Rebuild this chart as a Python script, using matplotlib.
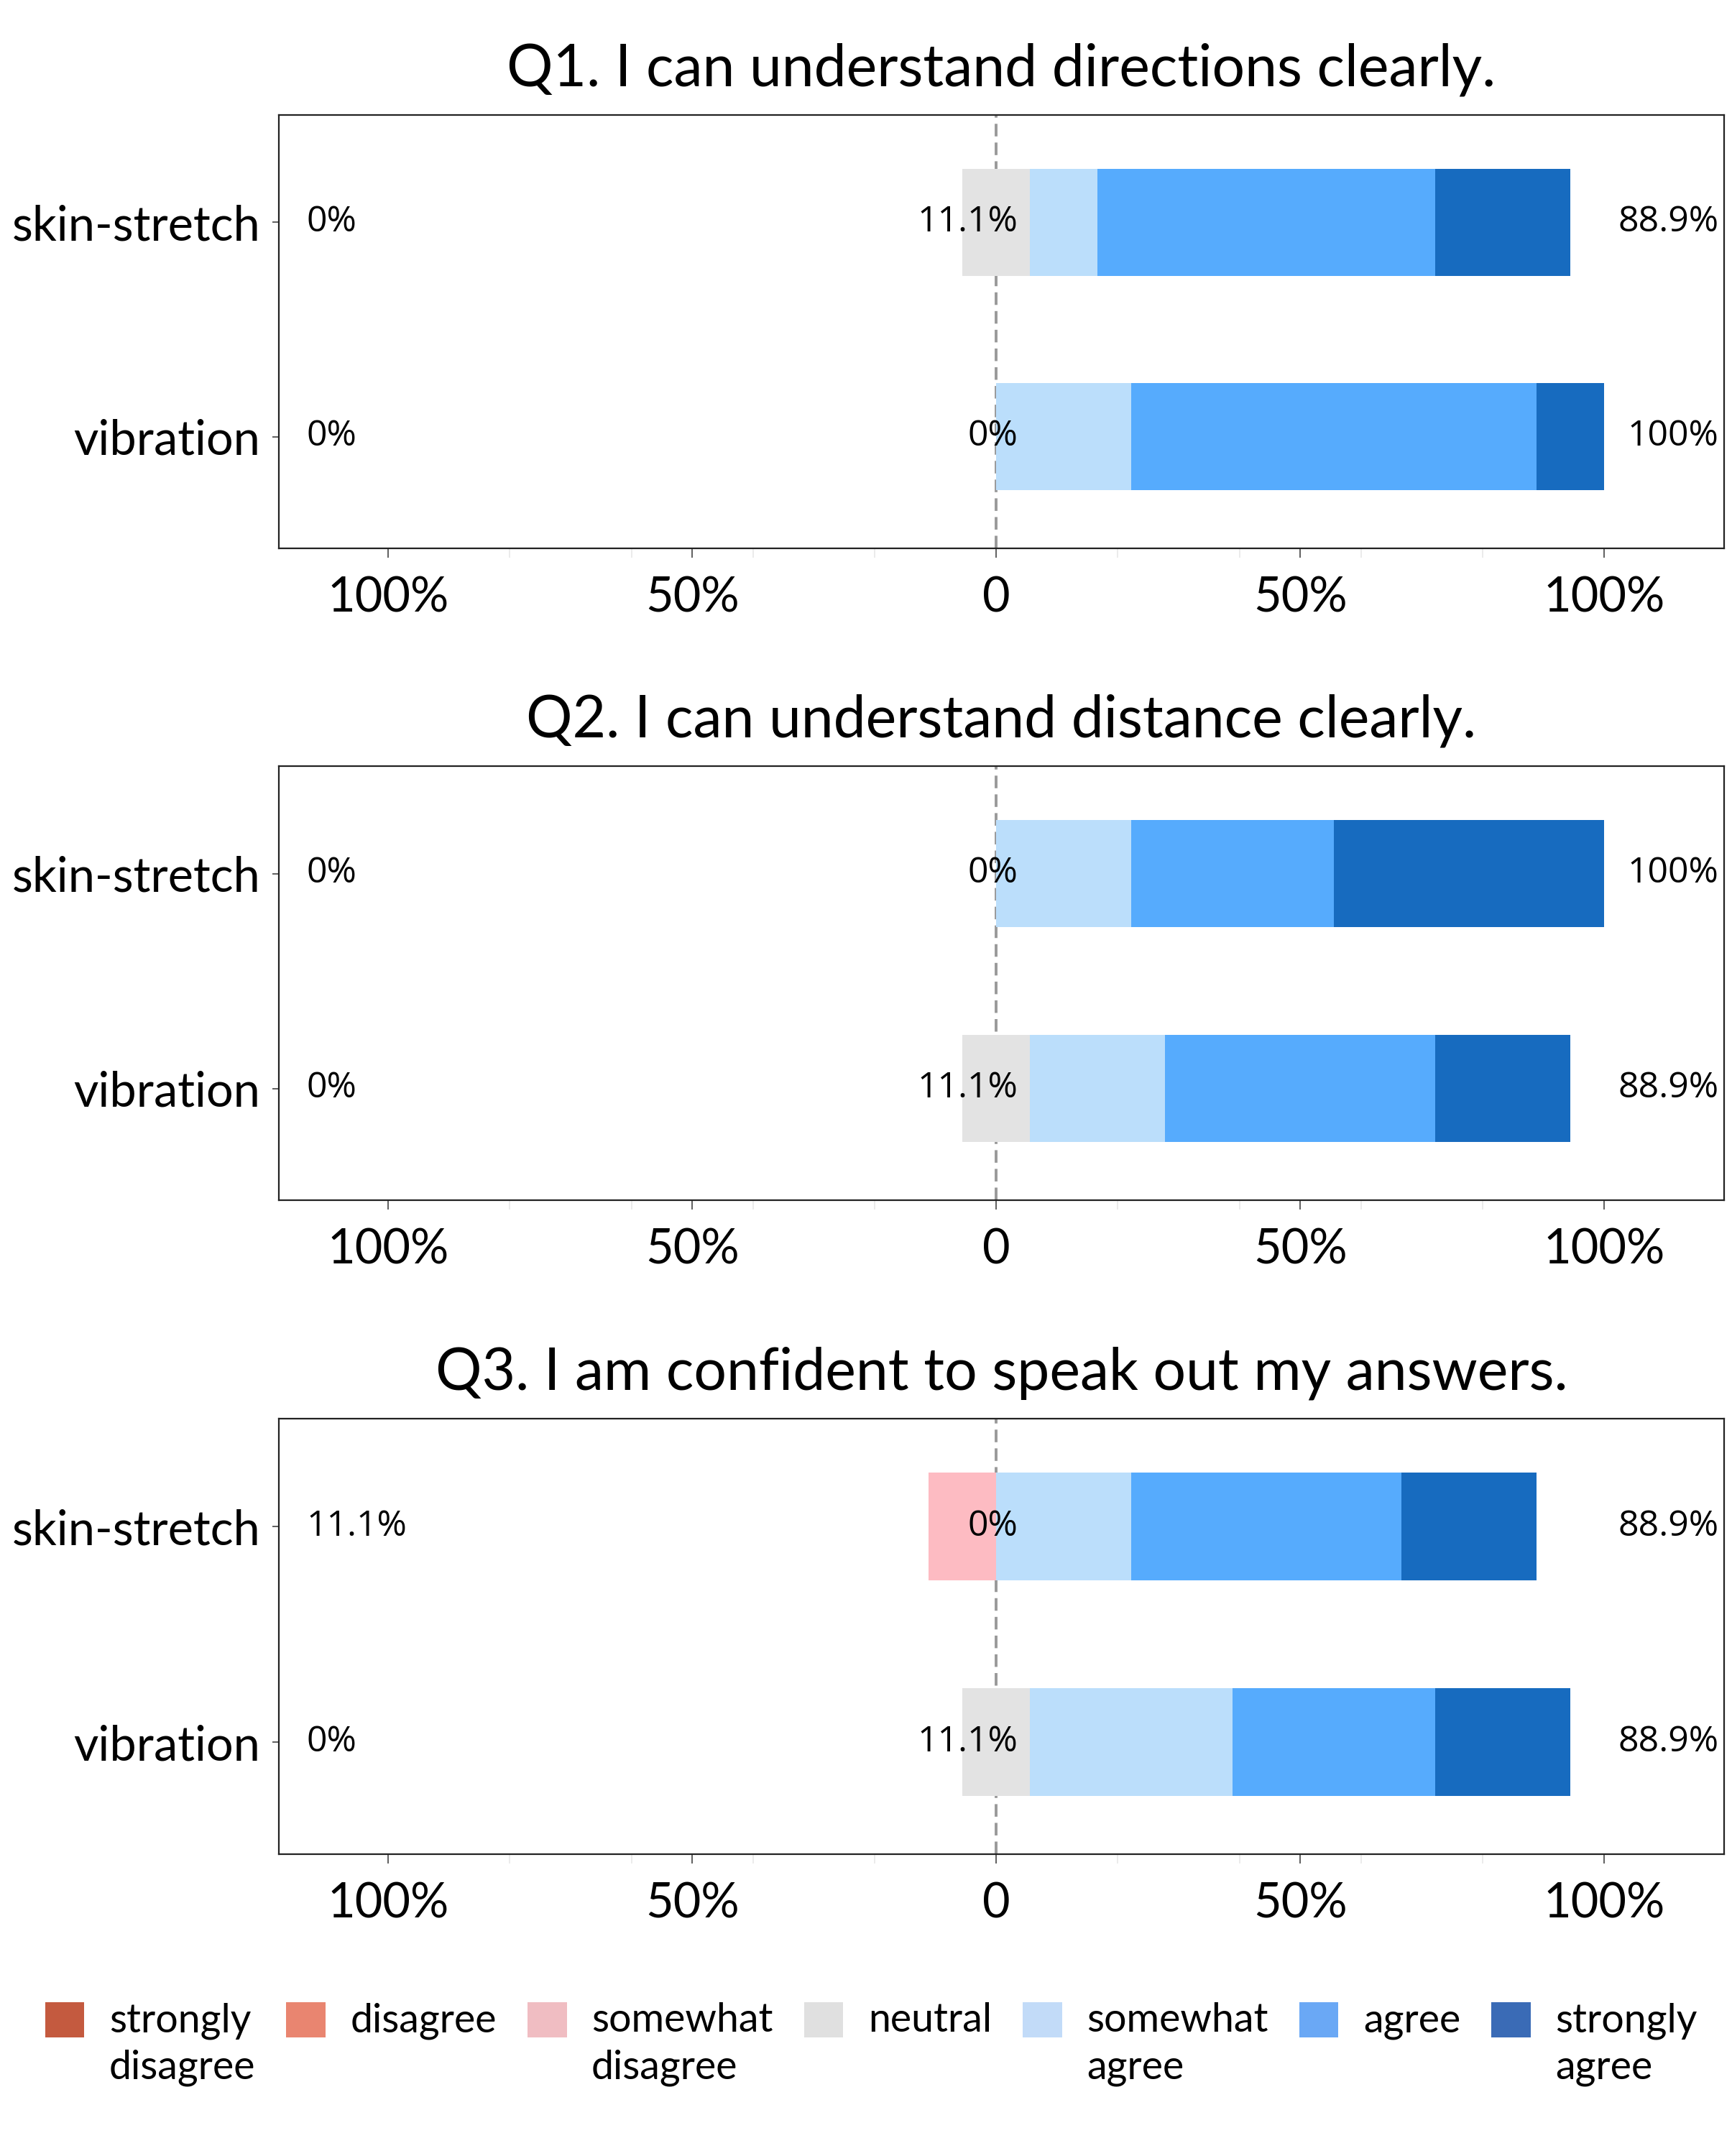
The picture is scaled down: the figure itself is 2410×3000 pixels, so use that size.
import matplotlib
matplotlib.use("Agg")
import matplotlib.pyplot as plt
from matplotlib.patches import Patch
from matplotlib.ticker import MultipleLocator, FixedLocator
import numpy as np

# ---------------- data ----------------
categories = ["strongly\ndisagree", "disagree", "somewhat\ndisagree", "neutral",
              "somewhat\nagree", "agree", "strongly\nagree"]
conditions = ["skin-stretch", "vibration"]
titles = ["Q1. I can understand directions clearly.",
          "Q2. I can understand distance clearly.",
          "Q3. I am confident to speak out my answers."]
n_participants = 9
# response counts per condition, ordered as in `categories`
q1_skin = [0, 0, 0, 1, 1, 5, 2]
q1_vib = [0, 0, 0, 0, 2, 6, 1]
q2_skin = [0, 0, 0, 0, 2, 3, 4]
q2_vib = [0, 0, 0, 1, 2, 4, 2]
q3_skin = [0, 0, 1, 0, 2, 4, 2]
q3_vib = [0, 0, 0, 1, 3, 3, 2]
questions = [[q1_skin, q1_vib], [q2_skin, q2_vib], [q3_skin, q3_vib]]

xtick_pos = [-1.0, -0.5, 0.0, 0.5, 1.0]
xtick_labels = ["100%", "50%", "0", "50%", "100%"]

bar_colors = ["#c45a3f", "#e98570", "#fdbbc2", "#e3e3e3", "#bbdefb", "#56abfd", "#176bbf"]
legend_colors = ["#c45a3f", "#e98570", "#f0bdc2", "#e0e0e0", "#c2dbf8", "#6aa8f5", "#3a6bb6"]

# ---------------- style ----------------
FONT = "Lato"
PFONT = "Open Sans"
plt.rcParams["font.family"] = [FONT, "DejaVu Sans"]

fig = plt.figure(figsize=(24.1, 30), dpi=100)

ax_rects = [
    [0.161, 0.7457, 0.8344, 0.2010],
    [0.161, 0.4433, 0.8344, 0.2013],
    [0.161, 0.1400, 0.8344, 0.2020],
]


def fmt(v):
    return f"{round(v, 1):g}%"


for qi, (rect, rows, title) in enumerate(zip(ax_rects, questions, titles)):
    ax = fig.add_axes(rect)
    ax.axvline(0, color="#999999", linestyle=(0, (4.5, 2.2)), linewidth=2.8, zorder=1)
    for ri, counts in enumerate(rows):
        frac = np.array(counts, dtype=float) / n_participants
        start = -(frac[0] + frac[1] + frac[2] + frac[3] / 2.0)
        left = start
        for ci in range(len(categories)):
            if frac[ci] > 0:
                ax.barh(ri, frac[ci], left=left, height=0.5,
                        color=bar_colors[ci], edgecolor="none", zorder=2)
            left += frac[ci]
        neg = frac[:3].sum() * 100
        neu = frac[3] * 100
        pos = frac[4:].sum() * 100
        ax.text(-1.135, ri, fmt(neg), ha="left", va="center",
                fontsize=36, family=PFONT, zorder=5)
        ax.text(0.035, ri, fmt(neu), ha="right", va="center",
                fontsize=36, family=PFONT, zorder=5)
        ax.text(1.188, ri, fmt(pos), ha="right", va="center",
                fontsize=36, family=PFONT, zorder=5)

    ax.set_xlim(-1.18, 1.197)
    ax.set_ylim(1.52, -0.5)
    ax.set_yticks(range(len(conditions)))
    ax.set_yticklabels(conditions, fontsize=48)
    ax.xaxis.set_major_locator(FixedLocator(xtick_pos))
    ax.set_xticklabels(xtick_labels, fontsize=48)
    ax.xaxis.set_minor_locator(MultipleLocator(0.2))
    ax.tick_params(axis="x", which="major", length=9.5, width=1.1,
                   color="#333333", pad=18)
    ax.tick_params(axis="x", which="minor", length=9.5, width=1.1,
                   color="#e6e6e6")
    ax.tick_params(axis="y", which="major", length=6.5, width=1.1,
                   color="#333333", pad=12)
    for sp in ax.spines.values():
        sp.set_linewidth(1.6)
        sp.set_color("#222222")
    ax.set_title(title, fontsize=58, pad=29)

handles = [Patch(facecolor=c, edgecolor="none") for c in legend_colors]
leg = fig.legend(handles, categories, ncol=7, loc="upper center",
                 bbox_to_anchor=(0.503, 0.0805), frameon=False,
                 prop={"family": FONT, "size": 40},
                 handlelength=0.98, handleheight=0.98, handletextpad=0.62,
                 columnspacing=0.78, borderpad=0)
for t in leg.get_texts():
    t.set_linespacing(1.34)
leg._legend_handle_box.align = "top"
for col in leg._legend_handle_box.get_children():
    col.align = "left"
    for item in col.get_children():
        item.align = "top"

fig.savefig("out.png", dpi=100)
